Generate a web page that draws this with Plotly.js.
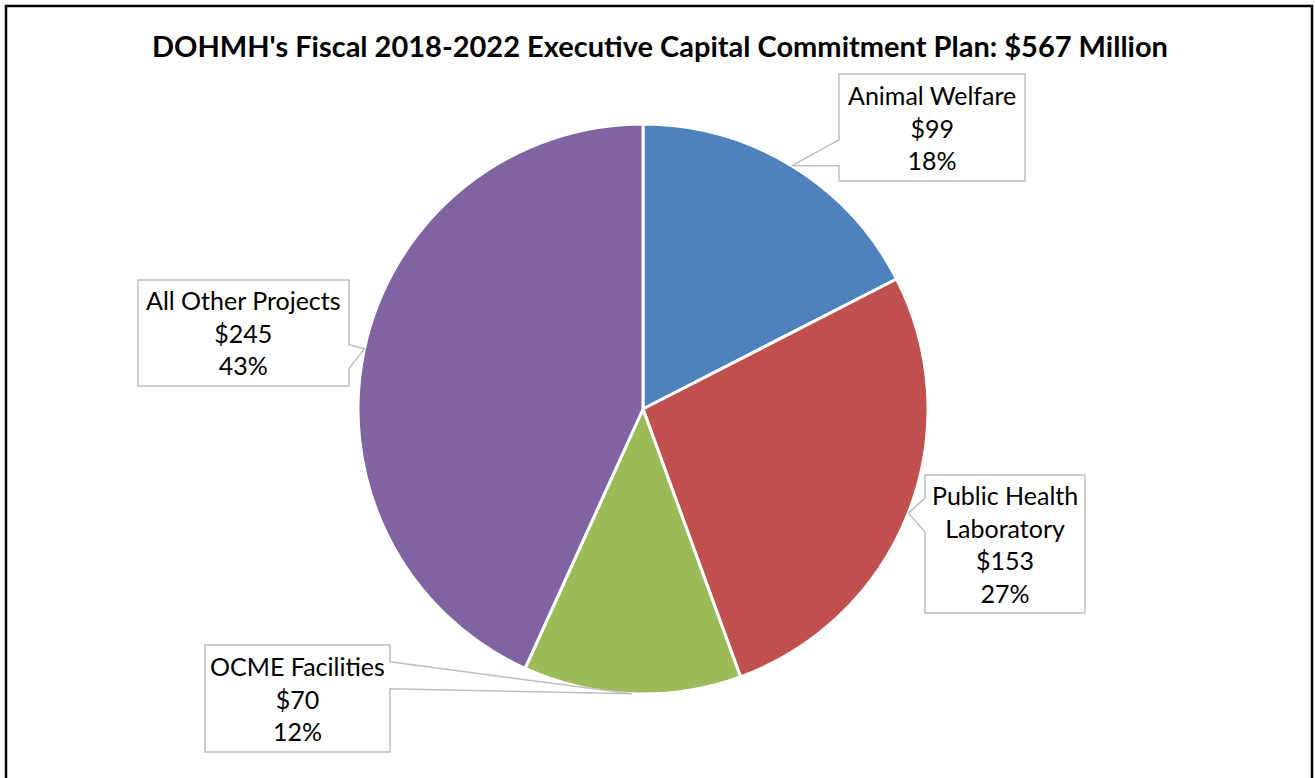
<!DOCTYPE html>
<html>
<head>
<meta charset="utf-8">
<script src="https://cdn.plot.ly/plotly-3.0.1.min.js"></script>
<style>html,body{margin:0;padding:0;background:#fff;}#chart{width:1315px;height:778px;}</style>
</head>
<body>
<div id="chart"></div>
<script>
// ---- data ----
const categories = ["Animal Welfare", "Public Health<br>Laboratory", "OCME Facilities", "All Other Projects"];
const values = [99, 153, 70, 245];
const percentLabels = ["18%", "27%", "12%", "43%"];
const colors = ["#4F81BD", "#C0504D", "#9BBB59", "#8064A2"];
const titleText = "DOHMH's Fiscal 2018-2022 Executive Capital Commitment Plan: $567 Million";

// ---- layout config ----
const W = 1315, H = 778;
const cx = 643, cy = 409, R = 285;
// callout boxes: center, size, side where the pointer leaves, pointer base (y offsets from tip)
const boxCenters = [[932, 127.5], [1005, 544], [297.5, 698.5], [243.5, 333]];
const boxSizes = [[186, 107], [160, 138], [185, 107], [211, 106]];
const pointerSide = ["left", "left", "right", "right"];
const pointerBase = [[-26, 0], [-15, 19], [-32, -5], [-4, 20]];
const FONT = "Lato, 'Open Sans', sans-serif";
const GRAY = "#BFBFBF";

const px = x => x / W, py = y => 1 - y / H;
const total = values.reduce((a, b) => a + b, 0);
let cum = 0;
const annotations = [];
const shapes = [];
values.forEach((v, i) => {
  const mid = (cum + v / 2) / total * 2 * Math.PI;
  cum += v;
  const tx = cx + R * Math.sin(mid), ty = cy - R * Math.cos(mid);
  const [bx, by] = boxCenters[i];
  const [bw, bh] = boxSizes[i];
  const x0 = bx - bw / 2, x1 = bx + bw / 2, y0 = by - bh / 2, y1 = by + bh / 2;
  const b1 = ty + pointerBase[i][0], b2 = ty + pointerBase[i][1];
  let pts;
  if (pointerSide[i] === "left") {
    pts = [[x0, y0], [x1, y0], [x1, y1], [x0, y1], [x0, b2], [tx, ty], [x0, b1]];
  } else {
    pts = [[x0, y0], [x1, y0], [x1, b1], [tx, ty], [x1, b2], [x1, y1], [x0, y1]];
  }
  const path = pts.map((p, k) => (k ? "L" : "M") + px(p[0]).toFixed(5) + "," + py(p[1]).toFixed(5)).join(" ") + " Z";
  shapes.push({type: "path", xref: "paper", yref: "paper", path: path,
    fillcolor: "#fff", line: {color: GRAY, width: 1.5}, layer: "above"});
  annotations.push({
    xref: "paper", yref: "paper", x: px(bx), y: py(by), xanchor: "center", yanchor: "middle",
    showarrow: false,
    text: categories[i] + "<br>$" + v + "<br>" + percentLabels[i],
    font: {family: FONT, size: 25, color: "#000"}, align: "center"
  });
});

shapes.push({
  type: "rect", xref: "paper", yref: "paper",
  x0: px(6), x1: px(1312), y0: -0.02, y1: py(6),
  line: {color: "#000", width: 2.5}
});

const trace = {
  type: "pie",
  labels: categories,
  values: values,
  sort: false,
  direction: "clockwise",
  rotation: 0,
  marker: {colors: colors, line: {color: "#fff", width: 3}},
  textinfo: "none",
  hoverinfo: "label+value+percent",
  showlegend: false,
  domain: {x: [px(cx - R), px(cx + R)], y: [py(cy + R), py(cy - R)]}
};

const layout = {
  width: W, height: H,
  margin: {l: 0, r: 0, t: 0, b: 0},
  paper_bgcolor: "#fff",
  showlegend: false,
  title: {
    text: "<b>" + titleText + "</b>",
    x: px(660), xanchor: "center", y: py(47), yanchor: "middle",
    font: {family: FONT, size: 29, color: "#000"}
  },
  annotations: annotations,
  shapes: shapes
};

Plotly.newPlot("chart", [trace], layout, {displayModeBar: false, staticPlot: true});
</script>
</body>
</html>
